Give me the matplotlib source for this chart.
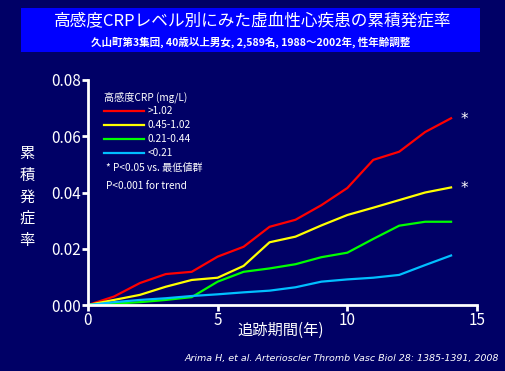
import numpy as np
import matplotlib
matplotlib.use("Agg")
import matplotlib.pyplot as plt

plt.rcParams['font.family'] = ['Noto Sans CJK JP', 'DejaVu Sans']

# Data (cumulative incidence by follow-up year)
years = list(range(15))
crp_high = [0, 0.003, 0.0078, 0.011, 0.0118, 0.0172, 0.0207, 0.0278, 0.0303, 0.0355, 0.0416, 0.0516, 0.0545, 0.0615, 0.0664]
crp_mid = [0, 0.0018, 0.0036, 0.0065, 0.0089, 0.0097, 0.0139, 0.0223, 0.0243, 0.0283, 0.032, 0.0346, 0.0373, 0.040, 0.0418]
crp_low = [0, 0.0005, 0.001, 0.0018, 0.0028, 0.0083, 0.0118, 0.013, 0.0145, 0.017, 0.0186, 0.0235, 0.0282, 0.0296, 0.0296]
crp_min = [0, 0.001, 0.0018, 0.0024, 0.0032, 0.0038, 0.0045, 0.0051, 0.0063, 0.0083, 0.0091, 0.0097, 0.0107, 0.0142, 0.0176]
labels = ['>1.02', '0.45-1.02', '0.21-0.44', '<0.21']
colors = ['#ff0000', '#ffff00', '#00ff00', '#00bfff']

bg = '#000066'
fig = plt.figure(figsize=(5.06, 3.71), dpi=100, facecolor=bg)

# title box
fig.patches.append(plt.Rectangle((21 / 506, 1 - 52 / 371), 459 / 506, 44 / 371,
                                 transform=fig.transFigure, facecolor='#0000ff',
                                 edgecolor='none'))
fig.text(0.5, 1 - 22 / 371, '高感度CRPレベル別にみた虚血性心疾患の累積発症率',
         color='white', fontsize=12, ha='center', va='center')
fig.text(0.495, 1 - 42 / 371, '久山町第3集団, 40歳以上男女, 2,589名, 1988～2002年, 性年齢調整',
         color='white', fontsize=7.6, ha='center', va='center', weight='bold')

ax = fig.add_axes([88 / 506, 1 - 305 / 371, 389 / 506, 225 / 371])
ax.set_facecolor(bg)

for y, c, lab in zip([crp_high, crp_mid, crp_low, crp_min], colors, labels):
    ax.plot(years, y, color=c, lw=1.6, label=lab)

ax.set_xlim(0, 15)
ax.set_ylim(0, 0.08)
ax.set_xticks([0, 5, 10, 15])
ax.set_yticks([0, 0.02, 0.04, 0.06, 0.08])
ax.set_yticklabels(['0.00', '0.02', '0.04', '0.06', '0.08'])
for s in ['top', 'right']:
    ax.spines[s].set_visible(False)
for s in ['left', 'bottom']:
    ax.spines[s].set_color('white')
    ax.spines[s].set_linewidth(2)
ax.tick_params(colors='white', labelsize=11, length=4, width=2, direction='out', pad=1)

fig.text(281 / 506, 1 - 330 / 371, '追跡期間(年)', color='white', fontsize=11,
         ha='center', va='center')
fig.text(27 / 506, 1 - 197 / 371, '累\n積\n発\n症\n率', color='white', fontsize=11,
         ha='center', va='center', linespacing=1.35)

leg = ax.legend(title='高感度CRP (mg/L)', loc='upper left', bbox_to_anchor=(0.03, 0.965),
                frameon=False, fontsize=7.3, title_fontsize=7.3, labelcolor='white',
                handlelength=4.0, handletextpad=0.3, labelspacing=0.4, borderaxespad=0)
leg.get_title().set_color('white')
leg._legend_box.align = 'left'
leg._legend_box.sep = 2

ax.text(0.045, (305 - 168) / 225, '* P<0.05 vs. 最低値群', transform=ax.transAxes,
        color='white', fontsize=7.3, va='center')
ax.text(0.045, (305 - 186) / 225, 'P<0.001 for trend', transform=ax.transAxes,
        color='white', fontsize=7.3, va='center')

ax.text(14.35, crp_high[-1] - 0.0005, '*', color='white', fontsize=11, va='center',
        family='DejaVu Sans')
ax.text(14.35, crp_mid[-1] - 0.0005, '*', color='white', fontsize=11, va='center',
        family='DejaVu Sans')

fig.text(1 - 7 / 506, 1 - 358 / 371,
         'Arima H, et al. Arterioscler Thromb Vasc Biol 28: 1385-1391, 2008',
         color='white', fontsize=6.8, style='italic', ha='right', va='center',
         family='DejaVu Sans')

fig.savefig('out.png', dpi=100, facecolor=bg)
